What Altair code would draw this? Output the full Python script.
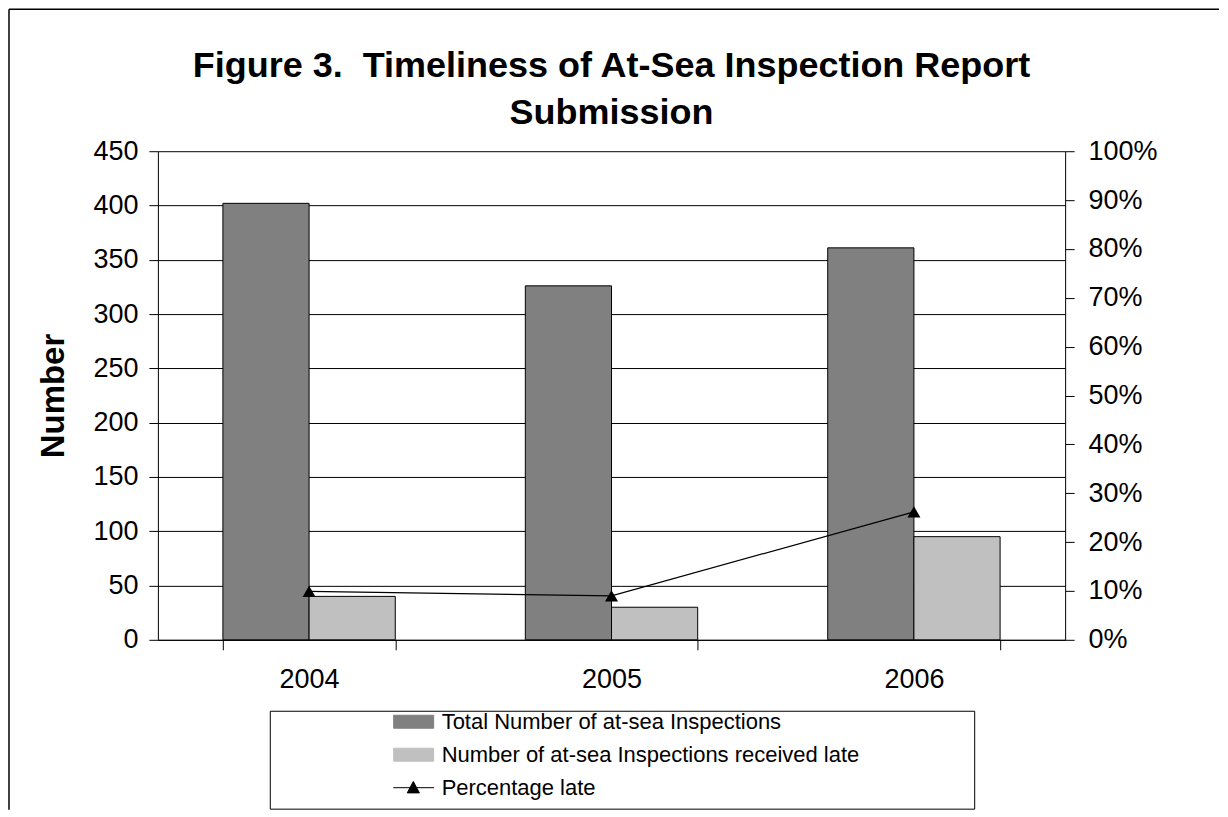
import altair as alt
import pandas as pd

# ---- data ----
years = ["2004", "2005", "2006"]
total_inspections = [402, 326, 361]
late_inspections = [40, 30, 95]
pct_late = [0.099, 0.090, 0.262]
series_names = [
    "Total Number of at-sea Inspections",
    "Number of at-sea Inspections received late",
    "Percentage late",
]
series_colors = ["#808080", "#C0C0C0", "#000000"]
left_ticks = list(range(0, 451, 50))
right_ticks = [i / 10 for i in range(11)]
title_lines = ["Figure 3.\u00a0 Timeliness of At-Sea Inspection Report", "Submission"]

W, H = 908, 489
FONT = "Liberation Sans"

bars_df = pd.DataFrame({
    "year": years * 2,
    "series": [series_names[0]] * 3 + [series_names[1]] * 3,
    "value": total_inspections + late_inspections,
})
line_df = pd.DataFrame({
    "year": years,
    "series": [series_names[2]] * 3,
    "pct": pct_late,
})

RECT_PATH = "M-1.155,-0.375H1.155V0.375H-1.155Z"
LINE_PATH = "M-1.18,0H1.18M-0.02,-0.36L0.33,0.3H-0.37Z"

legend = alt.Legend(
    title=None,
    orient="none",
    legendX=238,
    legendY=553,
    padding=0,
    rowPadding=4,
    labelFont=FONT,
    labelFontSize=22,
    labelColor="black",
    labelLimit=700,
    labelOffset=10,
    symbolSize=1200,
    symbolStrokeColor="black",
    symbolStrokeWidth=1,
    symbolOpacity=1,
    symbolType=alt.ExprRef(
        expr=f"datum.value === '{series_names[2]}' ? '{LINE_PATH}' : '{RECT_PATH}'"
    ),
)

color_scale = alt.Scale(domain=series_names, range=series_colors)
x_scale = alt.Scale(domain=years, paddingInner=0.43, paddingOuter=0.215)

x_axis = alt.Axis(
    title=None, labelAngle=0, labelFont=FONT, labelFontSize=27, labelColor="black",
    labelPadding=17, tickSize=10, tickBand="extent", tickColor="black",
    domainColor="black", grid=False,
)

bars = alt.Chart(bars_df).mark_bar(stroke="black", strokeWidth=1).encode(
    x=alt.X("year:N", scale=x_scale, axis=x_axis),
    xOffset=alt.XOffset("series:N", scale=alt.Scale(domain=series_names[:2], paddingInner=0, paddingOuter=0)),
    y=alt.Y(
        "value:Q",
        scale=alt.Scale(domain=[0, 450], nice=False),
        axis=alt.Axis(
            title="Number", titleFont=FONT, titleFontSize=33, titleFontWeight="bold",
            titleColor="black", titlePadding=22, values=left_ticks,
            labelFont=FONT, labelFontSize=27, labelColor="black", labelPadding=11,
            tickSize=9, tickColor="black", domainColor="black",
            grid=True, gridColor="black", gridOpacity=1, gridWidth=1,
        ),
    ),
    color=alt.Color("series:N", scale=color_scale, legend=legend),
)

line = alt.Chart(line_df).mark_line(
    strokeWidth=1.2,
    point=alt.OverlayMarkDef(shape="triangle-up", size=170, filled=True),
).encode(
    x=alt.X("year:N", scale=x_scale, axis=x_axis),
    y=alt.Y(
        "pct:Q",
        scale=alt.Scale(domain=[0, 1], nice=False),
        axis=alt.Axis(
            title=None, orient="right", values=right_ticks, format=".0%",
            labelFont=FONT, labelFontSize=27, labelColor="black", labelPadding=14,
            tickSize=9, tickColor="black", domainColor="black", grid=False,
        ),
    ),
    color=alt.Color("series:N", scale=color_scale, legend=legend),
)

deco = alt.Data(values=[{"k": 0}])
border_left = alt.Chart(deco).mark_rule(color="black", strokeWidth=1.5).encode(
    x=alt.value(-149), y=alt.value(-142), y2=alt.value(659))
border_top = alt.Chart(deco).mark_rule(color="black", strokeWidth=1.5).encode(
    x=alt.value(-149), x2=alt.value(1062), y=alt.value(-142))
legend_box = alt.Chart(deco).mark_rect(fillOpacity=0, stroke="black", strokeWidth=1).encode(
    x=alt.value(112.5), x2=alt.value(817.5), y=alt.value(560.5), y2=alt.value(658.5))

chart = alt.layer(bars, line, legend_box, border_left, border_top).resolve_scale(
    y="independent"
).properties(
    width=W,
    height=H,
    padding=0,
    title=alt.TitleParams(
        text=title_lines, font=FONT, fontSize=36, fontWeight="bold", color="black",
        lineHeight=48, offset=19, anchor="middle", frame="group", dy=143,
    ),
).configure_view(strokeWidth=0)

chart.save("out.html", embed_options={"renderer": "svg", "actions": False})
